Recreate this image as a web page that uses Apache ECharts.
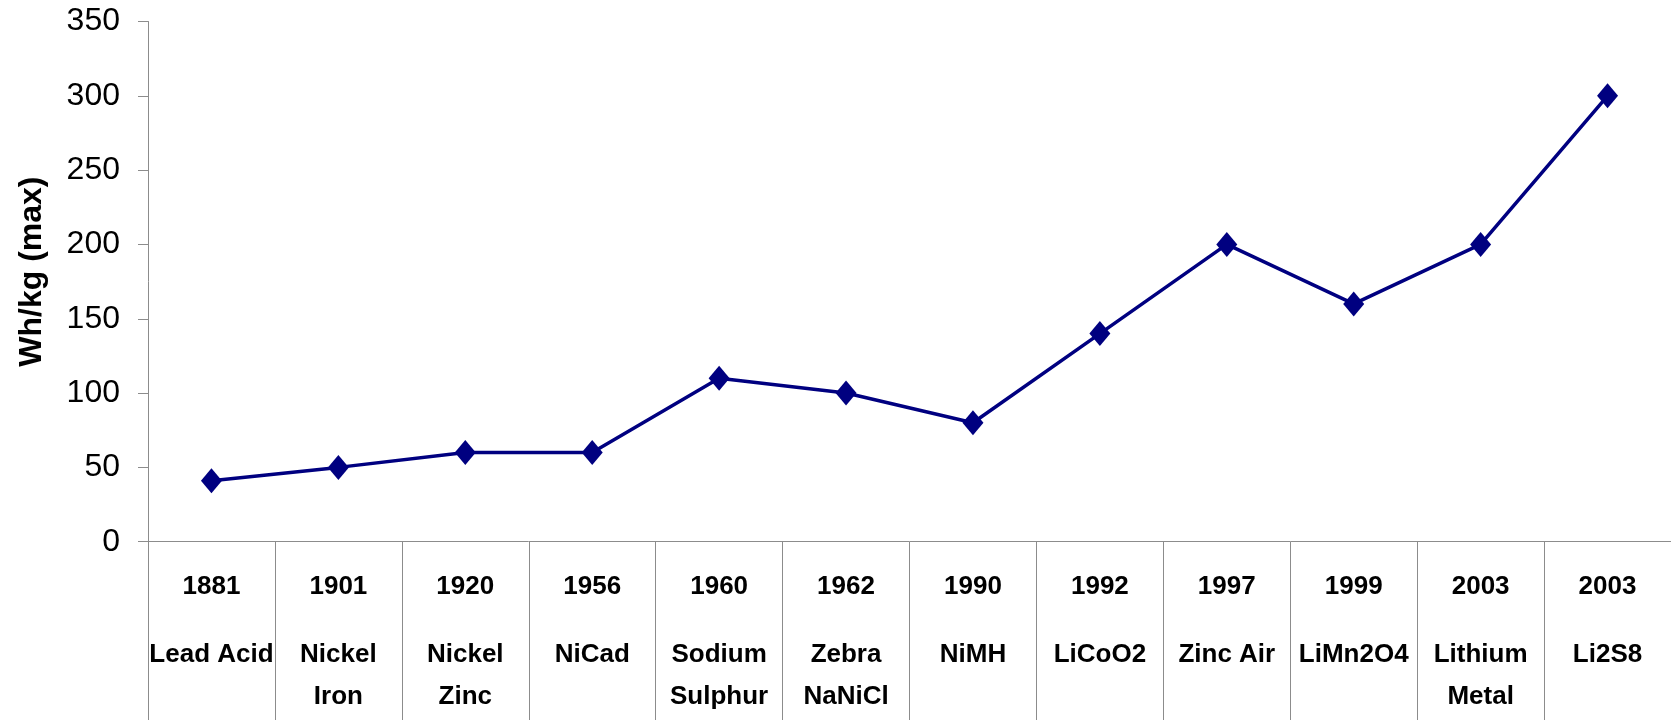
<!DOCTYPE html>
<html>
<head>
<meta charset="utf-8">
<script src="https://cdn.jsdelivr.net/npm/echarts@6/dist/echarts.min.js"></script>
<style>
  html, body { margin: 0; padding: 0; background: #ffffff; }
  #chart { width: 1671px; height: 720px; }
</style>
</head>
<body>
<div id="chart"></div>
<script>
// Year each battery chemistry appeared
const years = ['1881', '1901', '1920', '1956', '1960', '1962', '1990', '1992', '1997', '1999', '2003', '2003'];
// Chemistry names (line breaks kept as in the axis labels)
const chemistries = ['Lead Acid', 'Nickel\nIron', 'Nickel\nZinc', 'NiCad', 'Sodium\nSulphur', 'Zebra\nNaNiCl',
  'NiMH', 'LiCoO2', 'Zinc Air', 'LiMn2O4', 'Lithium\nMetal', 'Li2S8'];
// Maximum specific energy, Wh/kg
const energyMax = [41, 50, 60, 60, 110, 100, 80, 140, 200, 160, 200, 300];
// Value axis ticks
const yTicks = [0, 50, 100, 150, 200, 250, 300, 350];

const categories = years.map((y, i) => y + '|' + chemistries[i]);

const chart = echarts.init(document.getElementById('chart'));
chart.setOption({
  animation: false,
  backgroundColor: '#ffffff',
  textStyle: { fontFamily: '"Liberation Sans", Arial, sans-serif' },
  grid: { left: 148, top: 21.5, width: 1536, height: 520.2, containLabel: false },
  xAxis: {
    type: 'category',
    data: categories,
    boundaryGap: true,
    axisLine: { show: true, lineStyle: { color: '#8c8c8c', width: 1 } },
    axisTick: { show: true, length: 180, alignWithLabel: false, lineStyle: { color: '#8c8c8c', width: 1 } },
    axisLabel: {
      interval: 0,
      margin: -2,
      formatter: function (v) {
        const parts = v.split('|');
        const lines = parts[1].split('\n').map(s => '{n|' + s + '}').join('\n');
        return '{y|' + parts[0] + '}\n' + lines;
      },
      rich: {
        y: { fontSize: 26, fontWeight: 'bold', color: '#000', lineHeight: 94, fontFamily: '"Liberation Sans", Arial, sans-serif' },
        n: { fontSize: 26, fontWeight: 'bold', color: '#000', lineHeight: 42, fontFamily: '"Liberation Sans", Arial, sans-serif' }
      }
    },
    splitLine: { show: false }
  },
  yAxis: {
    type: 'value',
    min: yTicks[0],
    max: yTicks[yTicks.length - 1],
    interval: 50,
    name: 'Wh/kg (max)',
    nameLocation: 'middle',
    nameGap: 100,
    nameRotate: 90,
    nameTextStyle: {
      fontSize: 32, fontWeight: 'bold', color: '#000',
      fontFamily: '"Liberation Sans", Arial, sans-serif',
      padding: [0, 0, 0, 20]
    },
    axisLine: { show: true, lineStyle: { color: '#8c8c8c', width: 1 } },
    axisTick: { show: true, length: 10, inside: false, lineStyle: { color: '#8c8c8c', width: 1 } },
    axisLabel: { fontSize: 32, color: '#000', margin: 28, fontFamily: '"Liberation Sans", Arial, sans-serif' },
    splitLine: { show: false }
  },
  series: [{
    type: 'line',
    data: energyMax,
    symbol: 'diamond',
    symbolSize: [21, 25],
    itemStyle: { color: '#000080' },
    lineStyle: { color: '#000080', width: 3.5 },
    z: 3
  }]
});
</script>
</body>
</html>
